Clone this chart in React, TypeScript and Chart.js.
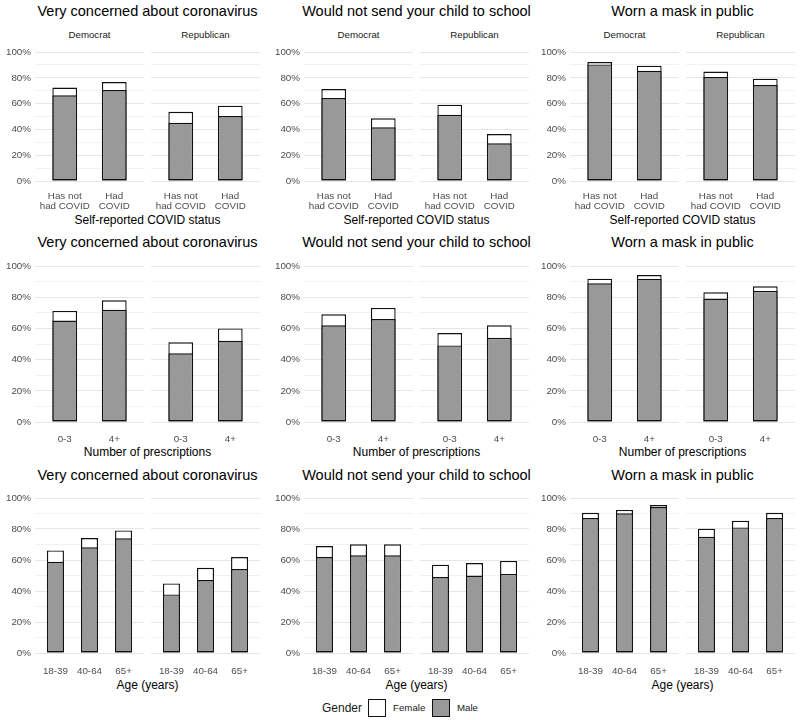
import React, { useEffect, useRef } from 'react';
import { Chart, registerables } from 'chart.js';

Chart.register(...registerables);

const FONT = '"Liberation Sans", Arial, Helvetica, sans-serif';

// ---------- DATA ----------
const outcomes = ['Very concerned about coronavirus', 'Would not send your child to school', 'Worn a mask in public'];
const parties = ['Democrat', 'Republican'];
const genders = ['Female', 'Male'];

const statusLabels = [['Has not', 'had COVID'], ['Had', 'COVID']];
const rxLabels = ['0-3', '4+'];
const ageLabels = ['18-39', '40-64', '65+'];
const xTitles = ['Self-reported COVID status', 'Number of prescriptions', 'Age (years)'];

// per outcome (concern, school, mask)
const statusFemaleDem = [[72.4, 76.7], [71.3, 48.6], [92.2, 89.4]];
const statusMaleDem = [[66.4, 70.5], [64.3, 41.6], [90.4, 85.5]];
const statusFemaleRep = [[53.7, 58.4], [59.2, 36.4], [84.8, 79.3]];
const statusMaleRep = [[45.2, 50.4], [51.4, 29.2], [80.6, 74.4]];

const rxFemaleDem = [[71.2, 78.0], [69.0, 73.1], [91.9, 94.2]];
const rxMaleDem = [[65.0, 72.0], [62.0, 66.0], [88.9, 91.9]];
const rxFemaleRep = [[51.1, 60.0], [57.0, 62.0], [83.1, 87.0]];
const rxMaleRep = [[44.0, 52.1], [49.1, 54.0], [79.1, 84.0]];

const ageFemaleDem = [[66.2, 74.2, 79.1], [69.0, 70.1, 70.1], [90.5, 92.3, 95.5]];
const ageMaleDem = [[58.9, 68.2, 74.0], [61.9, 63.0, 63.0], [87.1, 90.1, 94.2]];
const ageFemaleRep = [[44.9, 55.0, 61.9], [57.0, 58.0, 59.4], [80.2, 85.4, 90.5]];
const ageMaleRep = [[37.8, 47.1, 54.2], [49.0, 50.0, 51.0], [75.0, 81.0, 87.1]];

const yTicks = [0, 10, 20, 30, 40, 50, 60, 70, 80, 90, 100];

// ---------- LAYOUT ----------
const colLeft = [35, 304, 570];
const facetW = 109;
const facetGap = 7;
const rowPlotTop = [52, 266, 498];
const rowPlotH = [129, 156, 155];
const rowXH = [36, 26, 26];
const rowTickPad = [10, 12, 13];
const rowTitleTop = [4, 235, 468];
const rowXTitleTop = [214, 446, 679];
const stripTop = 30;
const Y_W = 35;
const PAD_TOP = 6;

const FEMALE_FILL = '#ffffff';
const MALE_FILL = '#999999';
const EDGE = '#111111';

type FacetProps = {
  left: number;
  top: number;
  plotH: number;
  xH: number;
  tickPad: number;
  labels: (string | string[])[];
  female: number[];
  male: number[];
  showY: boolean;
};

function Facet({ left, top, plotH, xH, tickPad, labels, female, male, showY }: FacetProps) {
  const ref = useRef<HTMLCanvasElement | null>(null);
  const yW = showY ? Y_W : 0;
  const cw = facetW + yW;
  const ch = PAD_TOP + plotH + xH;

  useEffect(() => {
    if (!ref.current) return;
    const n = labels.length;
    const common = {
      borderColor: EDGE,
      borderWidth: 1.4,
      borderSkipped: false as const,
      grouped: false,
      barPercentage: 0.5,
      categoryPercentage: 1,
    };
    const chart = new Chart(ref.current, {
      type: 'bar',
      data: {
        datasets: [
          {
            label: genders[1],
            data: male.map((v, i) => ({ x: i + 1, y: v })),
            backgroundColor: MALE_FILL,
            order: 0,
            ...common,
          },
          {
            label: genders[0],
            data: female.map((v, i) => ({ x: i + 1, y: v })),
            backgroundColor: FEMALE_FILL,
            order: 1,
            ...common,
          },
        ],
      } as any,
      options: {
        animation: false,
        responsive: false,
        maintainAspectRatio: false,
        devicePixelRatio: 1,
        layout: { padding: { top: PAD_TOP, left: 0, right: 0, bottom: 0 } },
        plugins: {
          legend: { display: false },
          tooltip: { enabled: false },
        },
        scales: {
          x: {
            type: 'linear',
            min: 0.4,
            max: n + 0.6,
            offset: false,
            grid: { display: false, drawTicks: false },
            border: { display: false },
            afterBuildTicks: (s: any) => {
              s.ticks = labels.map((_, i) => ({ value: i + 1 }));
            },
            afterFit: (s: any) => {
              s.height = xH;
              s.paddingLeft = 0;
              s.paddingRight = 0;
              s.paddingTop = 0;
              s.paddingBottom = 0;
            },
            ticks: {
              autoSkip: false,
              maxRotation: 0,
              minRotation: 0,
              padding: tickPad,
              color: '#4d4d4d',
              font: { size: 9.8, family: FONT, lineHeight: 1.03 },
              callback: (v: any) => labels[Math.round(Number(v)) - 1] as any,
            },
          },
          y: {
            type: 'linear',
            min: 0,
            max: 100,
            afterBuildTicks: (s: any) => {
              s.ticks = yTicks.map((v) => ({ value: v }));
            },
            afterFit: (s: any) => {
              s.width = yW;
              s.paddingLeft = 0;
              s.paddingRight = 0;
              s.paddingTop = 0;
              s.paddingBottom = 0;
            },
            grid: {
              drawTicks: false,
              color: (ctx: any) => (ctx.tick && ctx.tick.value % 20 === 0 ? '#e6e6e6' : '#f2f2f2'),
              lineWidth: 1,
            },
            border: { display: false },
            ticks: {
              display: showY,
              autoSkip: false,
              padding: 4,
              color: '#4d4d4d',
              font: { size: 9.8, family: FONT },
              callback: (v: any) => (Number(v) % 20 === 0 ? `${v}%` : ''),
            },
          },
        },
      } as any,
    });
    return () => chart.destroy();
  }, []);

  return (
    <canvas
      ref={ref}
      width={cw}
      height={ch}
      style={{ position: 'absolute', left: left - yW, top: top - PAD_TOP, width: cw, height: ch }}
    />
  );
}

const textBase: React.CSSProperties = {
  position: 'absolute',
  whiteSpace: 'nowrap',
  fontFamily: FONT,
  transform: 'translateX(-50%)',
};

export default function App() {
  const rows = [
    { labels: statusLabels, fd: statusFemaleDem, md: statusMaleDem, fr: statusFemaleRep, mr: statusMaleRep },
    { labels: rxLabels, fd: rxFemaleDem, md: rxMaleDem, fr: rxFemaleRep, mr: rxMaleRep },
    { labels: ageLabels, fd: ageFemaleDem, md: ageMaleDem, fr: ageFemaleRep, mr: ageMaleRep },
  ];

  const items: React.ReactNode[] = [];
  rows.forEach((row, r) => {
    outcomes.forEach((title, c) => {
      const l1 = colLeft[c];
      const l2 = l1 + facetW + facetGap;
      const cx = (l1 + l2 + facetW) / 2;
      items.push(
        <div key={`t${r}${c}`} style={{ ...textBase, left: cx, top: rowTitleTop[r], fontSize: 14.5, lineHeight: '14.5px', color: '#000' }}>
          {title}
        </div>
      );
      items.push(
        <div key={`x${r}${c}`} style={{ ...textBase, left: cx, top: rowXTitleTop[r], fontSize: 12, lineHeight: '12px', color: '#000' }}>
          {xTitles[r]}
        </div>
      );
      if (r === 0) {
        items.push(
          <div key={`s1${c}`} style={{ ...textBase, left: l1 + facetW / 2, top: stripTop, fontSize: 9.7, lineHeight: '9.7px', color: '#1a1a1a' }}>
            {parties[0]}
          </div>
        );
        items.push(
          <div key={`s2${c}`} style={{ ...textBase, left: l2 + facetW / 2, top: stripTop, fontSize: 9.7, lineHeight: '9.7px', color: '#1a1a1a' }}>
            {parties[1]}
          </div>
        );
      }
      items.push(
        <Facet
          key={`f1${r}${c}`}
          left={l1}
          top={rowPlotTop[r]}
          plotH={rowPlotH[r]}
          xH={rowXH[r]}
          tickPad={rowTickPad[r]}
          labels={row.labels}
          female={row.fd[c]}
          male={row.md[c]}
          showY={true}
        />
      );
      items.push(
        <Facet
          key={`f2${r}${c}`}
          left={l2}
          top={rowPlotTop[r]}
          plotH={rowPlotH[r]}
          xH={rowXH[r]}
          tickPad={rowTickPad[r]}
          labels={row.labels}
          female={row.fr[c]}
          male={row.mr[c]}
          showY={false}
        />
      );
    });
  });

  const legendText: React.CSSProperties = { position: 'absolute', whiteSpace: 'nowrap', fontFamily: FONT, color: '#1a1a1a' };
  const box = (fill: string, left: number): React.CSSProperties => ({
    position: 'absolute',
    left,
    top: 699,
    width: 16,
    height: 16,
    background: fill,
    border: `1.4px solid ${EDGE}`,
  });

  return (
    <div style={{ position: 'absolute', left: 0, top: 0, width: 800, height: 720, background: '#fff', overflow: 'hidden' }}>
      {items}
      <div style={{ ...legendText, left: 322, top: 702, fontSize: 12, lineHeight: '12px' }}>Gender</div>
      <div style={box(FEMALE_FILL, 368)} />
      <div style={{ ...legendText, left: 393, top: 703, fontSize: 9.7, lineHeight: '9.7px' }}>{genders[0]}</div>
      <div style={box(MALE_FILL, 432)} />
      <div style={{ ...legendText, left: 457, top: 703, fontSize: 9.7, lineHeight: '9.7px' }}>{genders[1]}</div>
    </div>
  );
}
